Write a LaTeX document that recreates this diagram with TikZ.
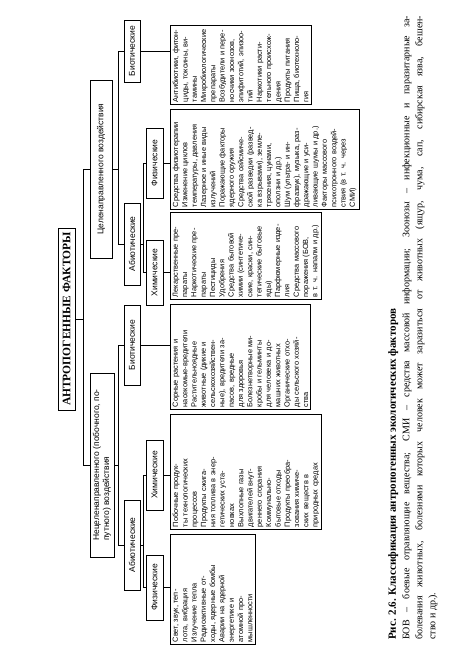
\documentclass[tikz,border=0pt]{standalone}
\usepackage{fontspec}
\setmainfont{Liberation Serif}
\newfontfamily\schemefont{Liberation Sans}

\begin{document}
\begin{tikzpicture}[x=1pt,y=1pt]
\tikzstyle{every node}+=[inner sep=0pt]
\tikzstyle{head}=[draw=black, line width=0.6pt, font=\fontsize{11.5}{12}\selectfont\bfseries]
\tikzstyle{group}=[draw=black, line width=0.6pt, font=\schemefont\fontsize{8.5}{10}\selectfont]
\tikzstyle{kind}=[draw=black, line width=0.6pt, minimum height=16, font=\schemefont\fontsize{8.5}{10}\selectfont]
\tikzstyle{leaf}=[draw=black, line width=0.6pt, anchor=north west, inner sep=2.5pt, align=left, font=\schemefont\fontsize{7.4}{9.3}\selectfont]
\useasboundingbox (0,0) rectangle (450,653);
\begin{scope}[rotate=90, transform shape]
% top
\node [head, minimum width=182, minimum height=17] (antro) at (334,-66.5) {АНТРОПОГЕННЫЕ ФАКТОРЫ};
\node [group, minimum width=184, minimum height=24, align=left] (necel) at (188,-102) {Нецеленаправленного (побочного, по-\\путного) воздействия};
\node [group, minimum width=178, minimum height=22] (celev) at (484,-101) {Целенаправленного воздействия};
% second row
\node [kind, minimum width=90] (abion) at (108,-132) {Абиотические};
\node [kind, minimum width=80] (bion) at (308,-132) {Биотические};
\node [kind, minimum width=82] (abioc) at (409,-132) {Абиотические};
\node [kind, minimum width=62] (bioc) at (602,-132) {Биотические};
% third row
\node [kind, minimum height=17, minimum width=65] (fizn) at (65.5,-154.5) {Физические};
\node [kind, minimum height=17, minimum width=70] (himn) at (178,-154.5) {Химические};
\node [kind, minimum height=17, minimum width=65] (himc) at (380.5,-154.5) {Химические};
\node [kind, minimum height=17, minimum width=70] (fizc) at (490,-154.5) {Физические};
% lists
\node [leaf, text width=105] (lfizn) at (8,-170) {Свет, звук, теп-\\лота, вибрация\\Излучение тепла\\Радиоактивные от-\\ходы, ядерные бомбы\\Аварии на ядерной\\энергетике и\\атомной про-\\мышленности};
\node [leaf, text width=110] (lhimn) at (123,-170) {Побочные продук-\\ты технологических\\процессов\\Продукты сжига-\\ния топлива в энер-\\гетических уста-\\новках\\Выхлопные газы\\двигателей внут-\\реннего сгорания\\Коммунально-\\бытовые отходы\\Продукты преобра-\\зования химиче-\\ских веществ в\\природных средах};
\node [leaf, text width=100] (lbion) at (243,-170) {Сорные растения и\\насекомые-вредители\\Растительноядные\\животные (дикие и\\сельскохозяйствен-\\ные), вредители за-\\пасов, вредные\\для здоровья\\Болезнетворные ми-\\кробы и гельминты\\для человека и до-\\машних животных\\Органические отхо-\\ды сельского хозяй-\\ства};
\node [leaf, text width=82] (lhimc) at (353,-170) {Лекарственные пре-\\параты\\Наркотические пре-\\параты\\Пестициды\\Удобрения\\Средства бытовой\\химии (синтетиче-\\ские, краски, син-\\тетические бытовые\\яды)\\Парфюмерные изде-\\лия\\Средства массового\\поражения (БОВ,\\в т. ч. напалм и др.)};
\node [leaf, text width=95] (lfizc) at (443,-170) {Средства физиотерапии\\Изменение циклов\\температуры, давления\\Лазерное и иные виды\\излучений\\Поражающие факторы\\ядерного оружия\\Средства сейсмиче-\\ской разведки (развед-\\ка взрывами), земле-\\трясения, цунами,\\оползни и др.)\\Шум (ультра- и ин-\\фразвук), музыка, раз-\\дражающие и уси-\\ливающие шумы и др.)\\Факторы массового\\психотронного воздей-\\ствия (в т. ч. через\\СМИ)};
\node [leaf, text width=74] (lbioc) at (548,-170) {Антибиотики, фитон-\\циды, токсины, ви-\\тамины\\Микробиологические\\препараты\\Возбудители и пере-\\носчики зоонозов,\\эпифитотий, эпизоо-\\тий\\Наркотики расти-\\тельного происхож-\\дения\\Продукты питания\\Пища, биотехноло-\\гия};
% junctions
\coordinate (t0) at (334,-83);
\coordinate (t1) at (188,-83);
\coordinate (t2) at (484,-83);
\coordinate (n0) at (188,-118);
\coordinate (n1) at (108,-118);
\coordinate (n2) at (308,-118);
\coordinate (c0) at (484,-118);
\coordinate (c1) at (409,-118);
\coordinate (c2) at (602,-118);
\coordinate (a0) at (108,-143);
\coordinate (a1) at (65.5,-143);
\coordinate (a2) at (178,-143);
\coordinate (b0) at (409,-143);
\coordinate (b1) at (380.5,-143);
\coordinate (b2) at (490,-143);
\coordinate (e1) at (65.5,-170);
\coordinate (e2) at (178,-170);
\coordinate (e3) at (308,-170);
\coordinate (e4) at (380.5,-170);
\coordinate (e5) at (490,-170);
\coordinate (e6) at (602,-170);
% connectors
\draw [black] (antro) -- (t0);
\draw [black] (t1) -- (t2);
\draw [black] (t1) -- (necel);
\draw [black] (t2) -- (celev);
\draw [black] (necel) -- (n0);
\draw [black] (n1) -- (n2);
\draw [black] (n1) -- (abion);
\draw [black] (n2) -- (bion);
\draw [black] (celev) -- (c0);
\draw [black] (c1) -- (c2);
\draw [black] (c1) -- (abioc);
\draw [black] (c2) -- (bioc);
\draw [black] (abion) -- (a0);
\draw [black] (a1) -- (a2);
\draw [black] (a1) -- (fizn);
\draw [black] (a2) -- (himn);
\draw [black] (abioc) -- (b0);
\draw [black] (b1) -- (b2);
\draw [black] (b1) -- (himc);
\draw [black] (b2) -- (fizc);
\draw [black] (fizn) -- (e1);
\draw [black] (himn) -- (e2);
\draw [black] (bion) -- (e3);
\draw [black] (himc) -- (e4);
\draw [black] (fizc) -- (e5);
\draw [black] (bioc) -- (e6);
% caption
\node [anchor=north west, font=\fontsize{11}{13}\selectfont\bfseries] (capt) at (13,-388) {Рис. 2.6. Классификация антропогенных экологических факторов};
\node [anchor=north west, text width=624, align=justify, font=\fontsize{10}{13}\selectfont] (capnote) at (13,-402) {БОВ – боевые отравляющие вещества; СМИ – средства массовой информации; Зоонозы – инфекционные и паразитарные за-\linebreak болевания животных, болезнями которых человек может заразиться от животных (ящур, чума, сап, сибирская язва, бешен-\linebreak ство и др.).};
\end{scope}
\end{tikzpicture}
\end{document}
